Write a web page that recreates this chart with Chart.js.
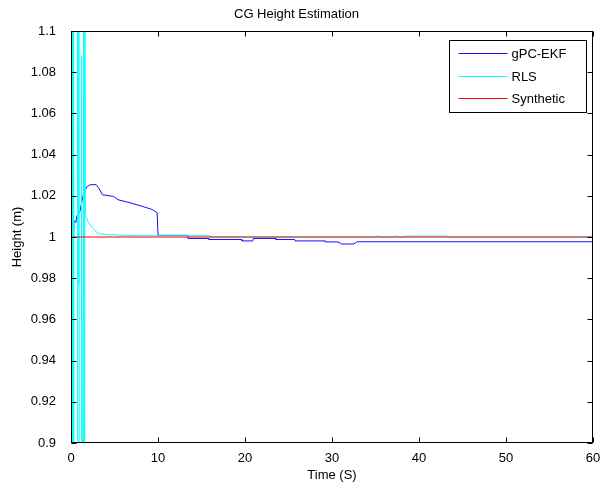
<!DOCTYPE html>
<html>
<head>
<meta charset="utf-8">
<script src="https://cdn.jsdelivr.net/npm/chart.js@4/dist/chart.umd.min.js"></script>
<style>
html,body{margin:0;padding:0;background:#fff;}
#wrap{width:601px;height:488px;}
</style>
</head>
<body>
<div id="wrap"><canvas id="c" width="601" height="488"></canvas></div>
<script>
// ---- data ----
const seriesNames = ['gPC-EKF', 'RLS', 'Synthetic'];
const seriesColors = ['#1010ff', '#00ffff', '#ff0000'];

const ekfTime = [0, 0.3, 0.35, 0.55, 0.7, 1.0, 1.4, 1.8, 2.2, 2.9, 3.25, 3.6, 4.9, 5.4, 6.8, 8.1, 9.3, 9.9, 10.0,
  13.4, 13.45, 15.8, 15.85, 19.6, 19.65, 20.9, 20.95, 23.5, 23.55, 25.7, 25.75, 29.2, 29.25, 30.7, 31.1, 32.5, 32.9, 60];
const ekfHeight = [1.0, 1.0, 1.008, 1.007, 1.0105, 1.012, 1.0202, 1.0243, 1.0254, 1.0254, 1.0234, 1.0205, 1.0197, 1.0181, 1.0166, 1.015, 1.0134, 1.0118, 1.0008,
  1.0008, 0.9993, 0.9993, 0.9988, 0.9988, 0.9981, 0.9981, 0.9993, 0.9993, 0.9988, 0.9988, 0.9981, 0.9981, 0.9976, 0.9976, 0.9966, 0.9966, 0.9977, 0.9977];

const rlsTime = [0, 0.04, 0.1, 0.16, 0.22, 0.3, 0.36, 0.7, 0.76, 0.84, 0.9, 0.96, 1.17, 1.2, 1.24, 1.38, 1.45, 1.52, 1.58, 1.65,
  1.8, 2.0, 2.3, 2.6, 3.0, 3.4, 4.0, 4.4, 5.0, 5.5, 6.2, 7.0,
  16.0, 16.05, 35.0, 35.05, 35.3, 35.35, 37.0, 37.05, 37.5, 37.55, 38.5, 38.55, 43.3, 43.35, 60];
const rlsHeight = [1.0, 1.2, 0.8, 1.2, 0.8, 1.2, 0.8, 0.8, 1.2, 0.977, 1.2, 0.8, 0.8, 1.088, 1.01, 0.8, 1.2, 0.8, 1.2, 1.0105,
  1.009, 1.0072, 1.0052, 1.0038, 1.0022, 1.0015, 1.0013, 1.001, 1.0012, 1.0008, 1.0009, 1.0006,
  1.0006, 1.0, 1.0, 1.0004, 1.0004, 1.0, 1.0, 1.0004, 1.0004, 1.0, 1.0, 1.0004, 1.0004, 1.0, 1.0];

const synTime = [0, 60];
const synHeight = [1.0, 1.0];

const xTicks = [0, 10, 20, 30, 40, 50, 60];
const xTickLabels = ['0', '10', '20', '30', '40', '50', '60'];
const yTicks = [0.9, 0.92, 0.94, 0.96, 0.98, 1.0, 1.02, 1.04, 1.06, 1.08, 1.1];
const yTickLabels = ['0.9', '0.92', '0.94', '0.96', '0.98', '1', '1.02', '1.04', '1.06', '1.08', '1.1'];

const titleText = 'CG Height Estimation';
const xTitle = 'Time (S)';
const yTitle = 'Height (m)';

// ---- helpers ----
const FONT = '"Liberation Sans", Arial, Helvetica, sans-serif';
function pts(t, v) { return t.map((x, i) => ({ x: x, y: v[i] })); }

const framePlugin = {
  id: 'frame',
  afterDraw(chart) {
    const { ctx, chartArea, scales } = chart;
    const L = Math.round(chartArea.left) + 0.5, R = Math.round(chartArea.right) - 0.5;
    const T = Math.round(chartArea.top) + 0.5, B = Math.round(chartArea.bottom) - 0.5;
    ctx.save();
    ctx.strokeStyle = '#000';
    ctx.lineWidth = 1;
    ctx.strokeRect(L, T, R - L, B - T);
    const tl = 5;
    ctx.beginPath();
    xTicks.forEach(v => {
      const px = Math.round(scales.x.getPixelForValue(v)) + 0.5;
      ctx.moveTo(px, B); ctx.lineTo(px, B - tl);
      ctx.moveTo(px, T); ctx.lineTo(px, T + tl);
    });
    yTicks.forEach(v => {
      const py = Math.round(scales.y.getPixelForValue(v)) + 0.5;
      ctx.moveTo(L, py); ctx.lineTo(L + tl, py);
      ctx.moveTo(R, py); ctx.lineTo(R - tl, py);
    });
    ctx.stroke();

    // legend box
    const bx = Math.round(chartArea.right) - 144 + 0.5;
    const bx2 = Math.round(chartArea.right) - 7 + 0.5;
    const by = Math.round(chartArea.top) + 9 + 0.5;
    const by2 = Math.round(chartArea.top) + 81 + 0.5;
    ctx.fillStyle = '#fff';
    ctx.fillRect(bx, by, bx2 - bx, by2 - by);
    ctx.strokeStyle = '#000';
    ctx.strokeRect(bx, by, bx2 - bx, by2 - by);
    ctx.font = '13px ' + FONT;
    ctx.textBaseline = 'middle';
    ctx.textAlign = 'left';
    seriesNames.forEach((name, i) => {
      const ly = Math.round(chartArea.top + 22 + i * 22.5) + 0.5;
      ctx.strokeStyle = seriesColors[i];
      ctx.lineWidth = 1;
      ctx.beginPath();
      ctx.moveTo(bx + 9, ly); ctx.lineTo(bx + 58, ly);
      ctx.stroke();
      ctx.fillStyle = '#000';
      ctx.fillText(name, bx + 62, ly + 0.5);
    });
    ctx.restore();
  }
};

const datasets = [
  { label: seriesNames[0], data: pts(ekfTime, ekfHeight), borderColor: seriesColors[0], order: 2 },
  { label: seriesNames[1], data: pts(rlsTime, rlsHeight), borderColor: seriesColors[1], order: 1 },
  { label: seriesNames[2], data: pts(synTime, synHeight), borderColor: seriesColors[2], order: 0 }
].map(d => Object.assign(d, { borderWidth: 1, pointRadius: 0, tension: 0, fill: false, backgroundColor: d.borderColor }));

new Chart(document.getElementById('c'), {
  type: 'line',
  data: { datasets: datasets },
  options: {
    responsive: false,
    animation: false,
    events: [],
    layout: { padding: { left: 0, right: 8, top: 0, bottom: 0 } },
    plugins: {
      legend: { display: false },
      tooltip: { enabled: false },
      title: {
        display: true, text: titleText, color: '#000',
        font: { family: FONT, size: 13, weight: 'normal' },
        padding: { top: 7, bottom: 8.4 }
      }
    },
    scales: {
      x: {
        type: 'linear', min: 0, max: 60,
        afterBuildTicks: s => { s.ticks = xTicks.map(v => ({ value: v })); },
        afterFit: s => { s.height = 45; },
        grid: { display: false },
        border: { display: false },
        ticks: {
          color: '#000', padding: 0, maxRotation: 0,
          font: { family: FONT, size: 13 },
          callback: (v, i) => xTickLabels[i]
        },
        title: { display: true, text: xTitle, color: '#000', font: { family: FONT, size: 13 }, padding: { top: 0, bottom: 5 } }
      },
      y: {
        type: 'linear', min: 0.9, max: 1.1,
        afterBuildTicks: s => { s.ticks = yTicks.map(v => ({ value: v })); },
        afterFit: s => { s.width = 71; },
        grid: { display: false },
        border: { display: false },
        ticks: {
          color: '#000', padding: 7,
          font: { family: FONT, size: 13 },
          callback: (v, i) => yTickLabels[i]
        },
        title: { display: true, text: yTitle, color: '#000', font: { family: FONT, size: 13 }, padding: { top: 10, bottom: 0 } }
      }
    }
  },
  plugins: [framePlugin]
});
</script>
</body>
</html>
